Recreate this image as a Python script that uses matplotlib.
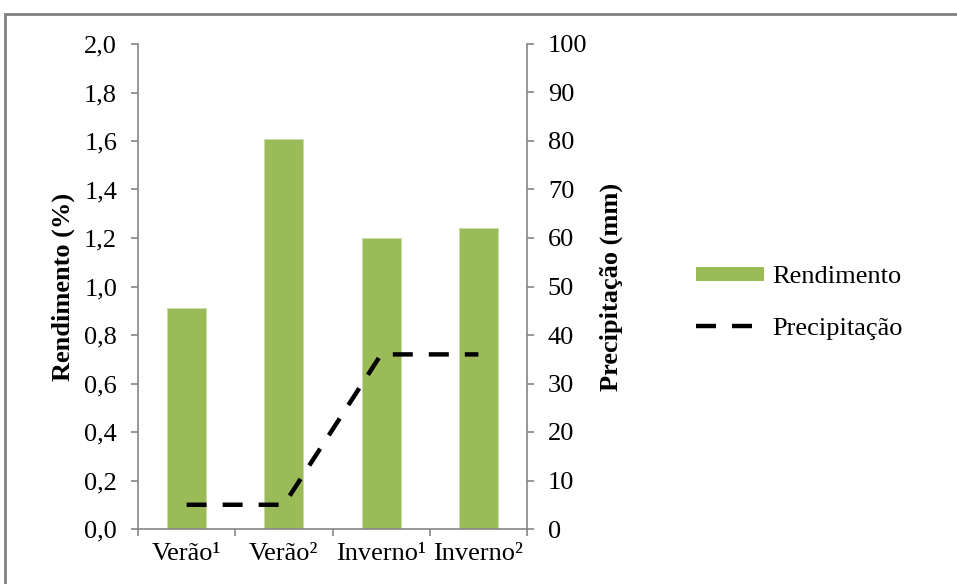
import matplotlib
matplotlib.use('Agg')
import matplotlib.pyplot as plt
from matplotlib.patches import Rectangle
from matplotlib.lines import Line2D
from matplotlib.patches import Patch
import numpy as np

# Rendimento (%) por época de coleta, e precipitação (mm)
epocas = ['Verão¹', 'Verão²', 'Inverno¹', 'Inverno²']
rendimento = [0.91, 1.61, 1.20, 1.24]
precipitacao = [5, 5, 36, 36]

plt.rcParams['font.family'] = ['Liberation Serif', 'DejaVu Serif']

GREEN = '#9bbb59'
GRAY = '#868686'
FS = 19

fig = plt.figure(figsize=(9.57, 5.84), dpi=100)
fig.patches.append(Rectangle((5 / 957, -0.1), 1.2, (584 - 14) / 584 + 0.1,
                             transform=fig.transFigure, fill=False,
                             edgecolor='#808080', linewidth=2.0))

ax = fig.add_axes([138 / 957, 1 - 529 / 584, (527 - 138) / 957, (529 - 44) / 584])
x = np.arange(len(epocas))
ax.bar(x, rendimento, width=0.4, color=GREEN, edgecolor='#c9dba6', linewidth=0.6,
       zorder=2)
ax.set_xlim(-0.5, len(epocas) - 0.5)
ax.set_ylim(0, 2.0)
yt = np.arange(0, 2.01, 0.2)
ax.set_yticks(yt)
ax.set_yticklabels([f'{v:.1f}'.replace('.', ',') for v in yt])
ax.set_ylabel('Rendimento (%)', fontsize=FS, fontweight='bold')
ax.yaxis.set_label_coords(-0.162, 0.5)

# separadores de categoria no eixo x
ax.set_xticks(np.arange(-0.5, len(epocas), 1.0))
ax.set_xticklabels([])
ax.set_xticks(x, minor=True)
ax.set_xticklabels(epocas, minor=True)
ax.tick_params(axis='x', which='minor', length=0, pad=10, labelsize=FS)
ax.tick_params(axis='x', which='major', length=5, color=GRAY, width=1.2)
ax.tick_params(axis='y', length=5, color=GRAY, width=1.2, labelsize=FS, pad=10)

for side in ['top', 'right']:
    ax.spines[side].set_visible(False)
for side in ['left', 'bottom']:
    ax.spines[side].set_color(GRAY)
    ax.spines[side].set_linewidth(1.2)

ax2 = ax.twinx()
ax2.plot(x, precipitacao, color='black', linewidth=3.2, dashes=(4.5, 3.6),
         zorder=3)
ax2.set_ylim(0, 100)
ax2.set_yticks(np.arange(0, 101, 10))
ax2.tick_params(axis='y', length=5, color=GRAY, width=1.2, labelsize=FS, pad=10)
ax2.set_ylabel('Precipitação (mm)', fontsize=FS, fontweight='bold')
ax2.yaxis.set_label_coords(1.187, 0.5)
for side in ['top', 'left', 'bottom']:
    ax2.spines[side].set_visible(False)
ax2.spines['right'].set_color(GRAY)
ax2.spines['right'].set_linewidth(1.2)

handles = [Patch(facecolor=GREEN, edgecolor='none'),
           Line2D([0], [0], color='black', linewidth=3.2, dashes=(4.5, 3.6))]
fig.legend(handles, ['Rendimento', 'Precipitação'], loc='center left',
           bbox_to_anchor=(672 / 957, 1 - 303 / 584), frameon=False,
           fontsize=FS, handlelength=2.6, handleheight=0.45,
           labelspacing=1.1, handletextpad=0.3)

fig.savefig('out.png', dpi=100)
